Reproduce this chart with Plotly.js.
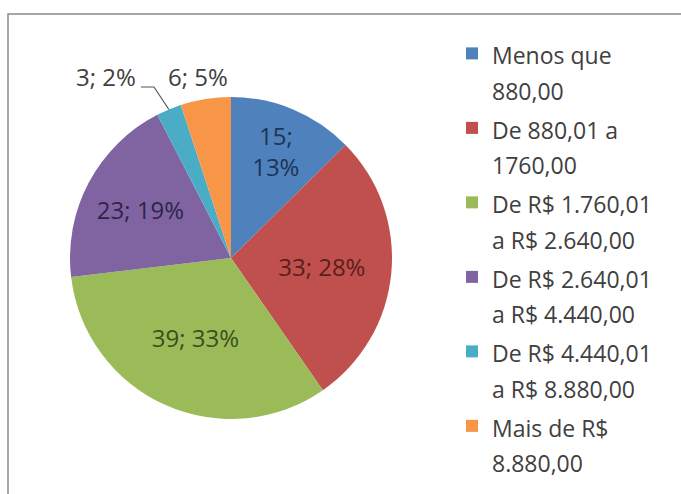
<!DOCTYPE html>
<html>
<head>
<meta charset="utf-8">
<script src="https://cdn.plot.ly/plotly-3.0.1.min.js"></script>
<style>html,body{margin:0;padding:0;background:#fff;}</style>
</head>
<body>
<div id="chart" style="width:681px;height:494px;"></div>
<script>
// Data
const categories = [
  "Menos que<br>880,00",
  "De 880,01 a<br>1760,00",
  "De R$ 1.760,01<br>a R$ 2.640,00",
  "De R$ 2.640,01<br>a R$ 4.440,00",
  "De R$ 4.440,01<br>a R$ 8.880,00",
  "Mais de R$<br>8.880,00"
];
const counts = [15, 33, 39, 23, 3, 6];
const percentLabels = ["13%", "28%", "33%", "19%", "2%", "5%"];
const colors = ["#4F81BD", "#C0504D", "#9BBB59", "#8064A2", "#4BACC6", "#F79646"];
const labelColors = ["#1d3454", "#5a1e1c", "#3d4e20", "#2f2448", "#404040", "#404040"];

const FONT = "'Open Sans', 'Noto Sans', sans-serif";
const glyphSize = 23;
const displayLabels = categories.map(c =>
  c.split("<br>").map(l => `<span style="font-size:${glyphSize}px">${l}</span>`).join("<br>")
);

const W = 681, H = 494;
const cx = 231, cy = 258, r = 161;
const px = x => x / W;
const py = y => 1 - y / H;

// slices too thin for an inside label get an outside label instead
const insideIdx = [0, 1, 2, 3];
const textpos = counts.map((v, i) => insideIdx.includes(i) ? "inside" : "none");
const templates = counts.map((v, i) => i === 0 ? "%{value};<br>%{text}" : "%{value}; %{text}");

const trace = {
  type: "pie",
  labels: displayLabels,
  values: counts,
  text: percentLabels,
  sort: false,
  direction: "clockwise",
  rotation: 0,
  marker: { colors: colors, line: { width: 0 } },
  texttemplate: templates,
  textposition: textpos,
  insidetextorientation: "horizontal",
  textfont: { family: FONT, size: 24, color: labelColors },
  automargin: false,
  hoverinfo: "label+value+percent",
  domain: {
    x: [px(cx - r), px(cx + r)],
    y: [py(cy + r), py(cy - r)]
  }
};

// mid-angle of a slice (clockwise from 12 o'clock), derived from the data
const total = counts.reduce((a, b) => a + b, 0);
function midAngle(i) {
  const before = counts.slice(0, i).reduce((a, b) => a + b, 0);
  return (before + counts[i] / 2) / total * 2 * Math.PI;
}
const tealA = midAngle(4);
const tipX = cx + r * Math.sin(tealA);
const tipY = cy - r * Math.cos(tealA);

const layout = {
  width: W,
  height: H,
  margin: { l: 0, r: 0, t: 0, b: 0 },
  paper_bgcolor: "#ffffff",
  font: { family: FONT, color: "#404040" },
  showlegend: true,
  legend: {
    x: 452 / W,
    xanchor: "left",
    y: 1 - 29 / H,
    yanchor: "top",
    font: { family: FONT, size: 27.5, color: "#404040" },
    valign: "top",
    bgcolor: "rgba(0,0,0,0)",
    traceorder: "normal"
  },
  annotations: [
    { xref: "paper", yref: "paper", x: px(106), y: py(77), xanchor: "center", yanchor: "middle",
      text: `${counts[4]}; ${percentLabels[4]}`, showarrow: false,
      font: { family: FONT, size: 24, color: "#404040" } },
    { xref: "paper", yref: "paper", x: px(198), y: py(77), xanchor: "center", yanchor: "middle",
      text: `${counts[5]}; ${percentLabels[5]}`, showarrow: false,
      font: { family: FONT, size: 24, color: "#404040" } }
  ],
  shapes: [
    {
      type: "rect", xref: "paper", yref: "paper",
      x0: px(8), x1: 1.02, y0: -0.02, y1: py(14),
      line: { color: "#8a8a8a", width: 1.5 }, fillcolor: "rgba(0,0,0,0)", layer: "below"
    },
    {
      type: "path", xref: "paper", yref: "paper",
      path: `M ${px(141)},${py(87)} L ${px(154)},${py(87)} L ${px(tipX)},${py(tipY)}`,
      line: { color: "#555555", width: 1.2 }
    }
  ]
};

Plotly.newPlot("chart", [trace], layout, { displayModeBar: false, staticPlot: true });
</script>
</body>
</html>
